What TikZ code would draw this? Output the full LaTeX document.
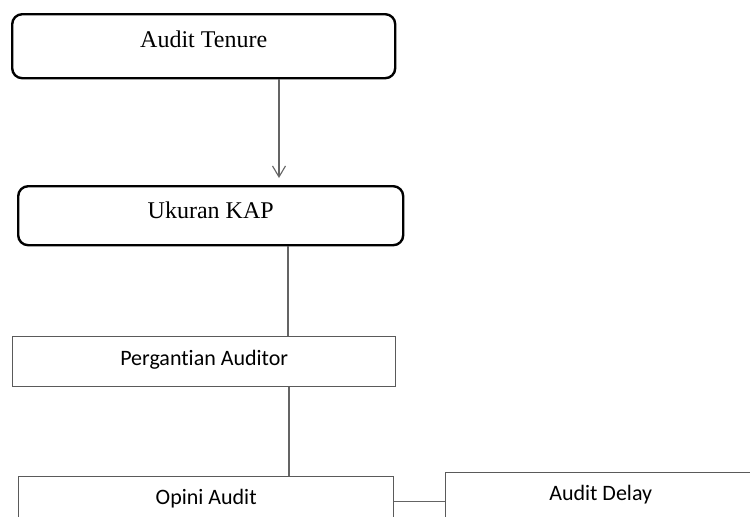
\documentclass[tikz,border=0pt]{standalone}
\usepackage{fontspec}
\setmainfont{Liberation Serif}
\newfontfamily\calibri[Ligatures=NoCommon]{Carlito}
\definecolor{boxgray}{RGB}{90, 90, 90}
\definecolor{linkgray}{RGB}{100, 100, 100}
\usepackage{tikz}
\usetikzlibrary{arrows.meta}

\tikzset{
  roundbox/.style={draw=black, line width=1.2pt, rounded corners=5pt, anchor=north west,
    inner xsep=0pt, inner ysep=0pt, font=\fontsize{12}{14}\selectfont},
  plainbox/.style={draw=boxgray, line width=0.7pt, anchor=north west,
    inner xsep=0pt, inner ysep=0pt, font=\calibri\fontsize{11}{13}\selectfont},
  link/.style={draw=linkgray, line width=0.55pt}
}

\begin{document}
\begin{tikzpicture}[x=0.5pt, y=-0.5pt]
            \clip (0,0) rectangle (750,516);
            \useasboundingbox (0,0) rectangle (750,516);

            % Rounded boxes
            \node[roundbox, minimum width=191.5pt, text height=16.5pt, text depth=15.5pt]
              (tenure) at (11,13) {Audit Tenure};
            \node[roundbox, minimum width=192.5pt, text height=16pt, text depth=13.5pt]
              (ukuran) at (17,185) {Ukuran KAP};

            % Plain boxes
            \node[plainbox, minimum width=191.5pt, text height=14.5pt, text depth=10.5pt]
              (ganti) at (12,336) {Pergantian Auditor};
            \node[plainbox, minimum width=187.5pt, text height=14pt, text depth=11pt]
              (opini) at (18,476) {Opini Audit};
            \node[plainbox, minimum width=155pt, text height=14pt, text depth=11pt]
              (delay) at (445,472) {Audit Delay};

            % Connectors
            \coordinate (ax) at (279,0);
            \coordinate (bx) at (288,0);
            \coordinate (cx) at (289,0);
            \draw[link, -{Straight Barb[length=5.5pt, width=6.5pt]}, shorten >=3.5pt]
              (tenure.south -| ax) -- (ukuran.north -| ax);
            \draw[link] (ukuran.south -| bx) -- (ganti.north -| bx);
            \draw[link] (ganti.south -| cx) -- (opini.north -| cx);
            \draw[link] (opini.east) -- (opini.east -| delay.west);
        \end{tikzpicture}
\end{document}
